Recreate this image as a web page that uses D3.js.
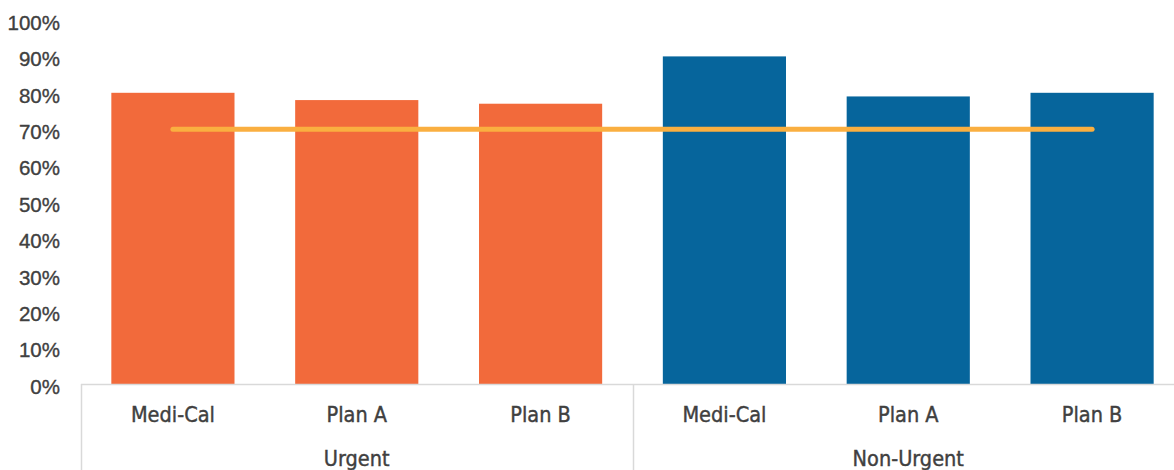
<!DOCTYPE html>
<html><head><meta charset="utf-8">
<script src="https://cdn.jsdelivr.net/npm/d3@7"></script>
<style>body{margin:0;background:#fff}svg{display:block}</style>
</head><body>
<svg id="c" width="1174" height="470"></svg>
<script>
const groups = ["Urgent", "Non-Urgent"];
const plans = ["Medi-Cal", "Plan A", "Plan B"];
const urgentValues = [0.80, 0.78, 0.77];
const nonUrgentValues = [0.90, 0.79, 0.80];
const targetValue = 0.70;
const yTicks = [0, 0.1, 0.2, 0.3, 0.4, 0.5, 0.6, 0.7, 0.8, 0.9, 1.0];
const colors = ["#F26A3B", "#06659C"];

(function () {
const rows = [];
[urgentValues, nonUrgentValues].forEach((vals, gi) => {
  vals.forEach((v, pi) => rows.push({key: gi + "-" + pi, group: groups[gi], gi, plan: plans[pi], value: v}));
});

const svg = d3.select("#c");
const mLeft = 81, mRight = 1184, mTop = 20, mBottom = 384;
const x = d3.scaleBand().domain(rows.map(d => d.key)).range([mLeft, mRight]).paddingInner(0).paddingOuter(0);
const y = d3.scaleLinear().domain([0, 1]).range([mBottom, mTop]);
const barW = x.bandwidth() * 0.67;

// bars
svg.append("g").selectAll("rect").data(rows).join("rect")
  .attr("x", d => x(d.key) + (x.bandwidth() - barW) / 2)
  .attr("y", d => y(d.value))
  .attr("width", barW)
  .attr("height", d => y(0) - y(d.value))
  .attr("fill", d => colors[d.gi]);

// target line
const line = d3.line().x(d => x(d.key) + x.bandwidth() / 2).y(() => y(targetValue));
svg.append("path").datum(rows).attr("d", line)
  .attr("fill", "none").attr("stroke", "#FAAF40").attr("stroke-width", 5).attr("stroke-linecap", "round");

// y axis labels
const yAxis = d3.axisLeft(y).tickValues(yTicks).tickFormat(d3.format(".0%")).tickSize(0).tickPadding(0);
const yg = svg.append("g").attr("transform", "translate(60,0)").call(yAxis);
yg.select(".domain").remove();
yg.selectAll("text").attr("fill", "#404040").attr("stroke", "#404040").attr("stroke-width", 0.35)
  .attr("font-family", "'Liberation Sans', Arial, sans-serif")
  .attr("font-size", 20.5).attr("dy", "0.45em");

// x axis line
const axisColor = "#D9D9D9";
svg.append("line").attr("x1", mLeft).attr("x2", mRight).attr("y1", mBottom + 0.5).attr("y2", mBottom + 0.5)
  .attr("stroke", axisColor).attr("stroke-width", 1.5);
// group dividers
const gx = [mLeft, x(rows[3].key), mRight];
svg.append("g").selectAll("line").data(gx).join("line")
  .attr("x1", d => Math.round(d) + 0.5).attr("x2", d => Math.round(d) + 0.5)
  .attr("y1", mBottom).attr("y2", 470).attr("stroke", axisColor).attr("stroke-width", 1.5);

const xFont = "'Liberation Sans Narrow', 'DejaVu Sans Condensed', 'Arial Narrow', sans-serif";
// plan labels
svg.append("g").selectAll("text").data(rows).join("text")
  .attr("x", d => x(d.key) + x.bandwidth() / 2).attr("y", 414).attr("dy", "0.38em")
  .attr("text-anchor", "middle").attr("fill", "#404040").attr("stroke", "#404040").attr("stroke-width", 0.4)
  .attr("font-family", xFont).attr("font-size", 21.5)
  .text(d => d.plan);
// group labels
svg.append("g").selectAll("text").data(groups).join("text")
  .attr("x", (d, i) => x(i + "-1") + x.bandwidth() / 2).attr("y", 458).attr("dy", "0.38em")
  .attr("text-anchor", "middle").attr("fill", "#404040").attr("stroke", "#404040").attr("stroke-width", 0.4)
  .attr("font-family", xFont).attr("font-size", 21.5)
  .text(d => d);
})();
</script>
</body></html>
